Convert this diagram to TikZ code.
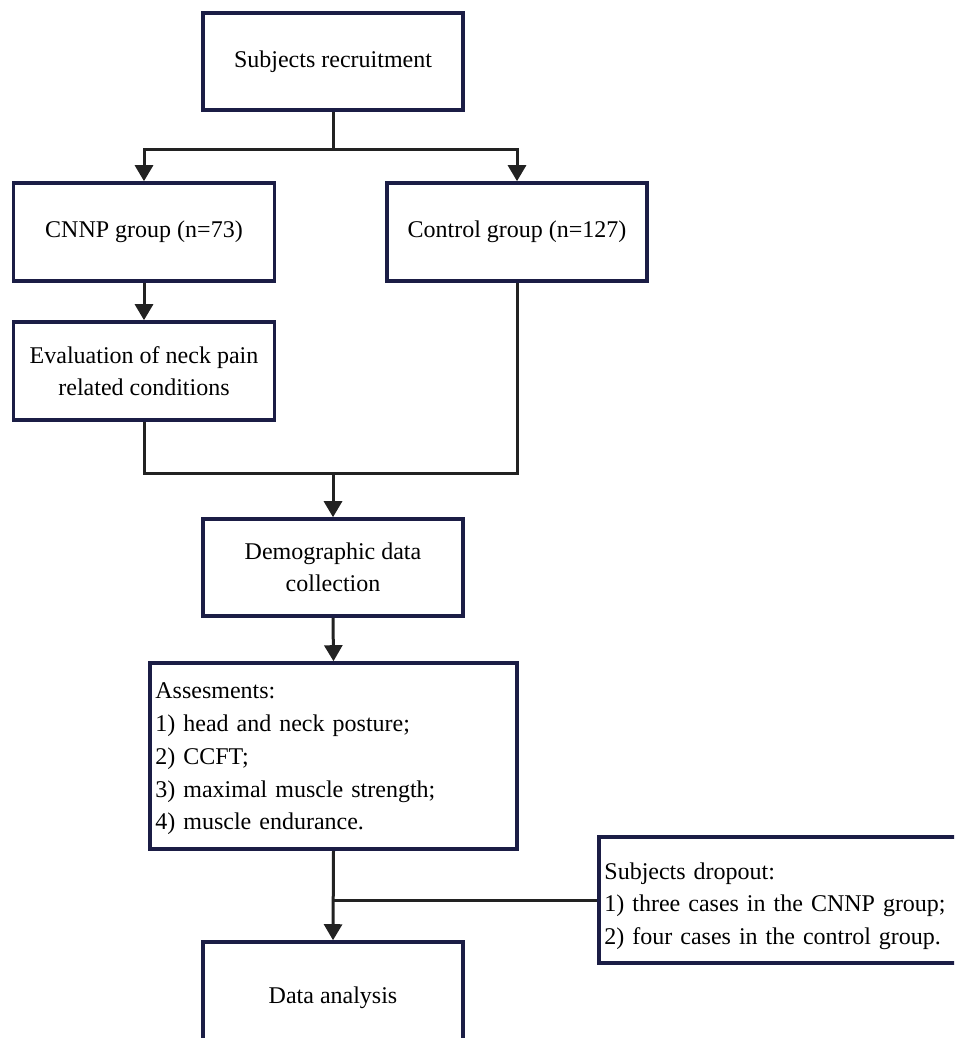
\documentclass[tikz,border=0pt]{standalone}
\usepackage{fontspec}
\setmainfont{Liberation Serif}
\usetikzlibrary{arrows.meta}
\definecolor{boxline}{HTML}{1B1D45}
\definecolor{conn}{HTML}{222222}
\begin{document}
\begin{tikzpicture}[x=1pt,y=-1pt,
  box/.style={draw=boxline,line width=3.6pt,fill=white,inner sep=6pt,
    font=\fontsize{24}{32.5}\selectfont,align=center},
  txt/.style={inner sep=0pt,font=\fontsize{24}{32.7}\selectfont,align=left},
  conline/.style={draw=conn,line width=3pt},
  arr/.style={conline,-{Triangle[width=18pt,length=16pt]}}]
\useasboundingbox (0,0) rectangle (954,1038);
\clip (0,0) rectangle (954,1038);
\node[box,minimum width=260pt,minimum height=97pt] (rec) at (333,61.5) {Subjects recruitment};
\node[box,minimum width=261pt,minimum height=98pt] (cnnp) at (144,232) {CNNP group (n=73)};
\node[box,minimum width=260pt,minimum height=98pt] (ctrl) at (517,232) {Control group (n=127)};
\node[box,minimum width=261pt,minimum height=98pt] (eval) at (144,371) {Evaluation of neck pain\\related conditions};
\node[box,minimum width=260pt,minimum height=97pt] (demo) at (333,567.5) {Demographic data\\collection};
\node[box,minimum width=367pt,minimum height=186pt] (asse) at (333.5,756) {};
\node[txt,text width=355pt,anchor=west] (assetxt) at ([xshift=7pt,yshift=-3pt]asse.west) {Assesments:\\1) head and neck posture;\\2) CCFT;\\3) maximal muscle strength;\\4) muscle endurance.};
\node[box,minimum width=400pt,minimum height=126pt] (drop) at (799,900) {};
\node[txt,text width=388pt,anchor=west] (droptxt) at ([xshift=7pt,yshift=-6pt]drop.west) {Subjects dropout:\\1) three cases in the CNNP group;\\2) four cases in the control group.};
\node[box,minimum width=260pt,minimum height=112pt] (data) at (333,998) {Data analysis};
\coordinate (j1) at (333,149);
\coordinate (j2) at (333,473);
\draw[conline] (rec.south) -- (j1);
\draw[arr] (j1) -| (cnnp.north);
\draw[arr] (j1) -| (ctrl.north);
\draw[arr] (cnnp.south) -- (eval.north);
\draw[conline] (eval.south) |- (j2) -| (ctrl.south);
\draw[arr] (j2) -- (demo.north);
\draw[arr] (demo.south) -- (asse.north);
\draw[arr] (asse.south) -- (data.north);
\draw[conline] (drop.west) -- (drop.west -| asse.south);
\end{tikzpicture}
\end{document}
